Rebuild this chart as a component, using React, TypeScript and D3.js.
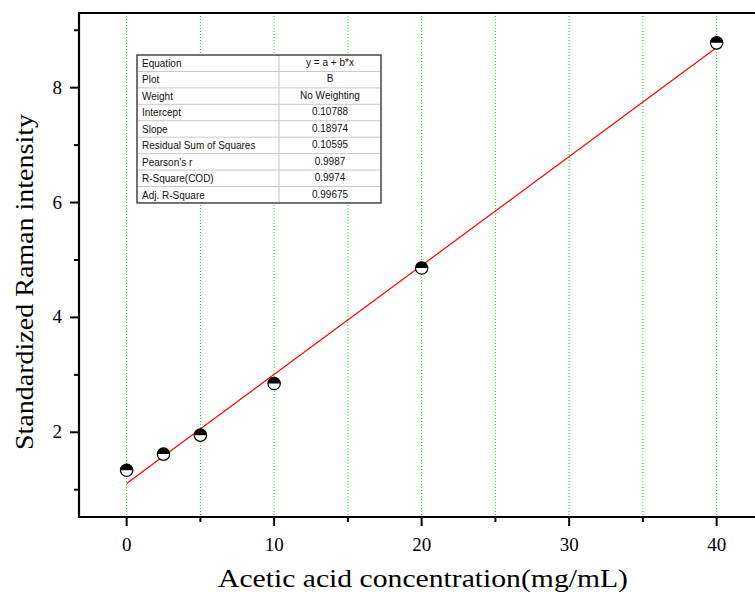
import React, { useEffect, useRef } from 'react';
import * as d3 from 'd3';

const concentrations = [0, 2.5, 5, 10, 20, 40];
const intensities = [1.34, 1.62, 1.95, 2.85, 4.86, 8.78];
const fitIntercept = 1.11;
const fitSlope = 0.18974;
const xTicks = [0, 10, 20, 30, 40];
const xMinorTicks = [5, 15, 25, 35];
const yTicks = [2, 4, 6, 8];
const yMinorTicks = [1, 3, 5, 7, 9];
const tableLabels = ['Equation', 'Plot', 'Weight', 'Intercept', 'Slope', 'Residual Sum of Squares', "Pearson's r", 'R-Square(COD)', 'Adj. R-Square'];
const tableValues = ['y = a + b*x', 'B', 'No Weighting', '0.10788', '0.18974', '0.10595', '0.9987', '0.9974', '0.99675'];

const App: React.FC = () => {
  const svgRef = useRef<SVGSVGElement>(null);

  useEffect(() => {
    if (!svgRef.current) return;
    const svg = d3.select(svgRef.current);
    svg.selectAll('*').remove();

    const left = 79, top = 13, bottom = 517;
    const x = d3.scaleLinear().domain([-3.23, 43]).range([left, left + (46.23 * 14.75)]);
    const y = d3.scaleLinear().domain([0.525, 9.3]).range([bottom, top]);
    const serif = '"Palatino Linotype", "Book Antiqua", Palatino, "Liberation Serif", serif';

    // Grid lines
    svg.append('g')
      .selectAll('line')
      .data([...xTicks, ...xMinorTicks])
      .enter().append('line')
      .attr('x1', d => x(d)).attr('x2', d => x(d))
      .attr('y1', top).attr('y2', bottom)
      .attr('stroke', '#00e000')
      .attr('stroke-width', 1)
      .attr('stroke-dasharray', '1,2');

    // Fit line
    const line = d3.line<number>()
      .x(d => x(d))
      .y(d => y(fitIntercept + fitSlope * d));
    svg.append('path')
      .datum([0, 40])
      .attr('d', line)
      .attr('fill', 'none')
      .attr('stroke', '#ff0000')
      .attr('stroke-width', 1.2);

    // Markers: top half filled black, bottom half white
    const r = 6.2;
    const pts = svg.append('g').selectAll('g')
      .data(concentrations.map((c, i) => ({ c, v: intensities[i] })))
      .enter().append('g')
      .attr('transform', d => `translate(${x(d.c)},${y(d.v)})`);
    pts.append('circle').attr('r', r).attr('fill', '#fff').attr('stroke', '#000').attr('stroke-width', 1.2);
    pts.append('path')
      .attr('d', `M${-r},0 A${r},${r} 0 0 1 ${r},0 Z`)
      .attr('fill', '#000');

    // Axes frame
    const axisColor = '#000';
    svg.append('line').attr('x1', left).attr('x2', left).attr('y1', top).attr('y2', bottom)
      .attr('stroke', axisColor).attr('stroke-width', 2.2);
    svg.append('line').attr('x1', left - 1).attr('x2', 760).attr('y1', bottom).attr('y2', bottom)
      .attr('stroke', axisColor).attr('stroke-width', 2.2);
    svg.append('line').attr('x1', left - 1).attr('x2', 760).attr('y1', top).attr('y2', top)
      .attr('stroke', axisColor).attr('stroke-width', 2.2);

    // X ticks
    svg.append('g').selectAll('line').data(xTicks).enter().append('line')
      .attr('x1', d => x(d)).attr('x2', d => x(d))
      .attr('y1', bottom).attr('y2', bottom + 9)
      .attr('stroke', axisColor).attr('stroke-width', 2);
    svg.append('g').selectAll('line').data(xMinorTicks).enter().append('line')
      .attr('x1', d => x(d)).attr('x2', d => x(d))
      .attr('y1', bottom).attr('y2', bottom + 5)
      .attr('stroke', axisColor).attr('stroke-width', 2);
    svg.append('g').selectAll('text').data(xTicks).enter().append('text')
      .attr('x', d => x(d)).attr('y', bottom + 34)
      .attr('text-anchor', 'middle')
      .style('font-family', serif).style('font-size', '19px')
      .text(d => d3.format('d')(d));

    // Y ticks
    svg.append('g').selectAll('line').data(yTicks).enter().append('line')
      .attr('x1', left - 9).attr('x2', left)
      .attr('y1', d => y(d)).attr('y2', d => y(d))
      .attr('stroke', axisColor).attr('stroke-width', 2);
    svg.append('g').selectAll('line').data(yMinorTicks).enter().append('line')
      .attr('x1', left - 5).attr('x2', left)
      .attr('y1', d => y(d)).attr('y2', d => y(d))
      .attr('stroke', axisColor).attr('stroke-width', 2);
    svg.append('g').selectAll('text').data(yTicks).enter().append('text')
      .attr('x', left - 17).attr('y', d => y(d) + 6)
      .attr('text-anchor', 'end')
      .style('font-family', serif).style('font-size', '19px')
      .text(d => String(d));

    // Axis titles
    svg.append('text')
      .attr('x', 423).attr('y', 587)
      .attr('text-anchor', 'middle')
      .attr('textLength', 410)
      .attr('lengthAdjust', 'spacingAndGlyphs')
      .style('font-family', serif).style('font-size', '26px')
      .text('Acetic acid concentration(mg/mL)');
    svg.append('text')
      .attr('transform', 'rotate(-90)')
      .attr('x', -282).attr('y', 33)
      .attr('text-anchor', 'middle')
      .attr('textLength', 336)
      .attr('lengthAdjust', 'spacingAndGlyphs')
      .style('font-family', serif).style('font-size', '26px')
      .text('Standardized Raman intensity');

    // Stats table
    const tx = 137, ty = 55, tw = 244, rowH = 16.44, colX = 279;
    const tg = svg.append('g');
    tg.append('rect').attr('x', tx).attr('y', ty).attr('width', tw).attr('height', rowH * tableLabels.length)
      .attr('fill', '#fff');
    tg.selectAll('line.row').data(d3.range(1, tableLabels.length)).enter().append('line')
      .attr('class', 'row')
      .attr('x1', tx).attr('x2', tx + tw)
      .attr('y1', d => ty + d * rowH).attr('y2', d => ty + d * rowH)
      .attr('stroke', '#c8c8c8').attr('stroke-width', 1);
    tg.append('line').attr('x1', colX).attr('x2', colX).attr('y1', ty).attr('y2', ty + rowH * tableLabels.length)
      .attr('stroke', '#c8c8c8').attr('stroke-width', 1);
    tg.append('rect').attr('x', tx).attr('y', ty).attr('width', tw).attr('height', rowH * tableLabels.length)
      .attr('fill', 'none').attr('stroke', '#444').attr('stroke-width', 1.5);
    tg.selectAll('text.lab').data(tableLabels).enter().append('text')
      .attr('class', 'lab')
      .attr('x', tx + 5).attr('y', (d, i) => ty + i * rowH + 12)
      .style('font-family', 'Arial, "Liberation Sans", sans-serif').style('font-size', '10px')
      .attr('fill', '#111')
      .text(d => d);
    tg.selectAll('text.val').data(tableValues).enter().append('text')
      .attr('class', 'val')
      .attr('x', (colX + tx + tw) / 2).attr('y', (d, i) => ty + i * rowH + 11)
      .attr('text-anchor', 'middle')
      .style('font-family', 'Arial, "Liberation Sans", sans-serif').style('font-size', '10px')
      .attr('fill', '#111')
      .text(d => d);
  }, []);

  return (
    <svg ref={svgRef} width={755} height={592} style={{ position: 'absolute', left: 0, top: 0, background: '#fff' }} />
  );
};

export default App;
